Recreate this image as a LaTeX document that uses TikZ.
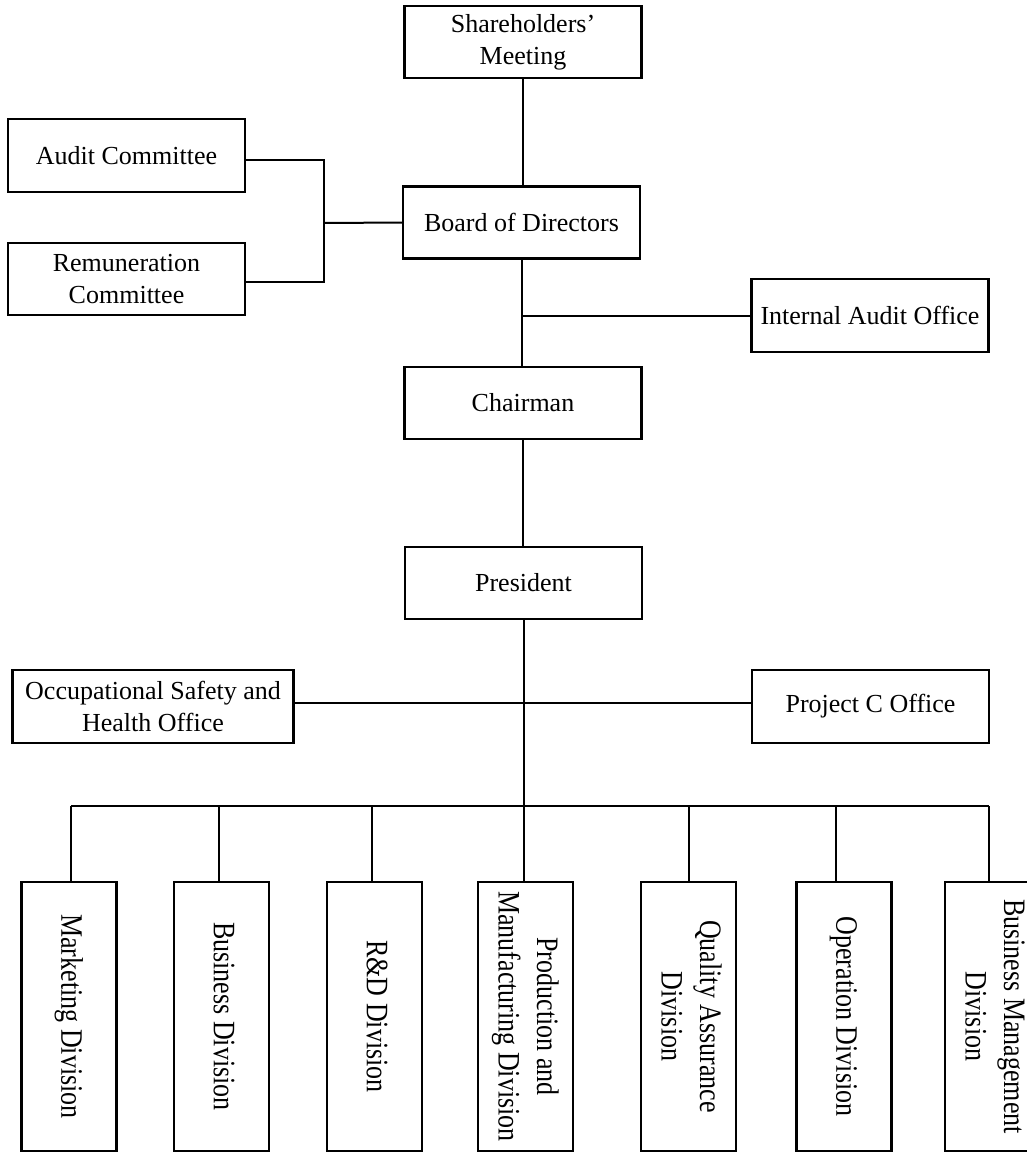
\documentclass[tikz,border=0pt]{standalone}
\usepackage{fontspec}
\setmainfont{Liberation Serif}
\usepackage{graphicx}
\begin{document}
\begin{tikzpicture}[x=0.75pt,y=-0.75pt,
  box/.style={draw,line width=1.6pt,rectangle,inner sep=0pt,align=center,
    font=\fontsize{19.5}{24}\selectfont},
  hbox/.style={box,minimum width=237*0.75pt,minimum height=72*0.75pt},
  divbox/.style={box,minimum width=95*0.75pt,minimum height=269*0.75pt},
  conn/.style={line width=1.5pt}]
\useasboundingbox (0,0) rectangle (1027,1153);
\newcommand{\vtext}[1]{\rotatebox{-90}{\scalebox{1}[1.2]{\begin{tabular}{@{}c@{}}#1\end{tabular}}}}

% upper nodes
\node[hbox] (sh) at (523,42) {Shareholders'\\Meeting};
\node[hbox,minimum height=73*0.75pt] (audit) at (126.5,155.5) {Audit Committee};
\node[hbox] (board) at (521.5,222.5) {Board of Directors};
\node[hbox] (rem) at (126.5,279) {Remuneration\\Committee};
\node[hbox,minimum height=73*0.75pt] (iao) at (870,315.5) {Internal Audit Office};
\node[hbox] (chair) at (523,403) {Chairman};
\node[hbox] (pres) at (523.5,583) {President};
\node[hbox,minimum width=281*0.75pt,minimum height=73*0.75pt] (osh) at (153,706.5) {Occupational Safety and\\Health Office};
\node[hbox,minimum height=73*0.75pt] (proj) at (870.5,706.5) {Project C Office};

% divisions
\node[divbox] (mk) at (69,1016.5) {\vtext{Marketing Division}};
\node[divbox] (bd) at (221.5,1016.5) {\vtext{Business Division}};
\node[divbox] (rd) at (374.5,1016.5) {\vtext{R\&D Division}};
\node[divbox] (pm) at (525.5,1016.5) {\vtext{Production and\\Manufacturing Division}};
\node[divbox] (qa) at (688.5,1016.5) {\vtext{Quality Assurance\\Division}};
\node[divbox] (op) at (844,1016.5) {\vtext{Operation Division}};
\node[divbox] (bm) at (992.5,1016.5) {\vtext{Business Management\\Division}};

% connectors
\draw[conn] (sh.south) -- (sh.south |- board.north);
\coordinate (brA) at ([yshift=-3pt]audit.east);
\coordinate (brR) at ([yshift=-2pt]rem.east);
\coordinate (br) at (324,223);
\draw[conn] (brA) -- (br |- brA) -- (br |- brR) -- (brR);
\draw[conn] (br) -- (board.west);
\draw[conn] (board.south) -- (board.south |- chair.north);
\draw[conn] (board.south |- iao.west) -- (iao.west);
\draw[conn] (chair.south) -- (chair.south |- pres.north);
\coordinate (b1) at (71,806);
\coordinate (b2) at (219,806);
\coordinate (b3) at (372,806);
\coordinate (b4) at (523.5,806);
\coordinate (b5) at (689,806);
\coordinate (b6) at (836,806);
\coordinate (b7) at (989,806);
\draw[conn] (pres.south) -- (b4);
\draw[conn] ([yshift=3pt]osh.east) -- ([yshift=3pt]proj.west);
\draw[conn] (b1) -- (b7);
\draw[conn] (b1) -- (b1 |- mk.north);
\draw[conn] (b2) -- (b2 |- bd.north);
\draw[conn] (b3) -- (b3 |- rd.north);
\draw[conn] (b4) -- (b4 |- pm.north);
\draw[conn] (b5) -- (b5 |- qa.north);
\draw[conn] (b6) -- (b6 |- op.north);
\draw[conn] (b7) -- (b7 |- bm.north);
\end{tikzpicture}
\end{document}
